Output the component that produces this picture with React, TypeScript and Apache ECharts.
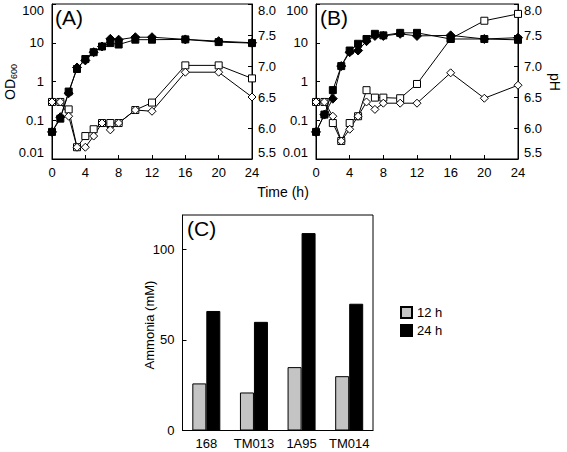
import React, { useEffect, useRef } from "react";
import * as echarts from "echarts";

const hours = [0, 1, 2, 3, 4, 5, 6, 7, 8, 10, 12, 16, 20, 24];

const aOdSquare = [0.05, 0.11, 0.55, 2.1, 3.8, 5.7, 8, 9.8, 9, 12, 12, 12.2, 10.4, 9.8];
const aOdDiamond = [0.05, 0.12, 0.5, 2.3, 3.5, 5.7, 8, 12.6, 12, 13.9, 13.9, 12.2, 11, 10];
const aPhSquare = [6.42, 6.42, 6.3, 5.69, 5.87, 5.98, 6.08, 6.08, 6.08, 6.29, 6.41, 7.01, 7.01, 6.8];
const aPhDiamond = [6.42, 6.42, 6.19, 5.69, 5.69, 5.87, 6.08, 5.97, 6.08, 6.29, 6.27, 6.9, 6.9, 6.5];

const bOdSquare = [0.05, 0.14, 0.6, 2.5, 6.3, 9.4, 12.5, 17, 15.5, 18, 18, 12.5, 12.5, 11.9];
const bOdDiamond = [0.05, 0.14, 0.36, 2.5, 5.7, 6.3, 11, 15, 15, 17, 15, 15.5, 12.5, 13.5];
const bPhSquare = [6.42, 6.42, 6.08, 5.79, 6.08, 6.19, 6.61, 6.49, 6.49, 6.48, 6.71, 7.44, 7.73, 7.84];
const bPhDiamond = [6.42, 6.42, 6.19, 5.79, 5.98, 6.19, 6.42, 6.3, 6.4, 6.4, 6.4, 6.89, 6.48, 6.69];

const strains = ["168", "TM013", "1A95", "TM014"];
const ammonia12h = [26, 21, 35, 30];
const ammonia24h = [66, 60, 109, 70];

const FONT = "'Liberation Sans', Arial, Helvetica, sans-serif";

function pairs(xs: number[], ys: number[]) {
  return xs.map((x, i) => [x, ys[i]]);
}

export default function App() {
  const ref = useRef<HTMLDivElement>(null);
  useEffect(() => {
    if (!ref.current) return;
    const chart = echarts.init(ref.current, undefined, { renderer: "svg" });
    const axisLine = { show: true, lineStyle: { color: "#000", width: 1 } };
    const axisTick = { show: true, inside: true, length: 4, lineStyle: { color: "#000" } };
    const label = { color: "#000", fontSize: 13, fontFamily: FONT };

    const timeAxis = (gi: number) => ({
      type: "value",
      gridIndex: gi,
      min: 0,
      max: 24,
      interval: 4,
      axisLine,
      axisTick,
      splitLine: { show: false },
      axisLabel: { ...label, margin: 7 },
    });
    const odAxis = (gi: number) => ({
      type: "log",
      logBase: 10,
      gridIndex: gi,
      min: 0.01,
      max: 100,
      position: "left",
      axisLine,
      axisTick,
      minorTick: { show: false },
      splitLine: { show: false },
      axisLabel: {
        ...label,
        margin: 8,
        verticalAlignMaxLabel: "top",
        verticalAlignMinLabel: "bottom",
        formatter: (v: number) => (v >= 1 ? v.toFixed(0) : String(Number(v.toPrecision(1)))),
      },
    });
    const phAxis = (gi: number) => ({
      type: "value",
      gridIndex: gi,
      min: 5.5,
      max: 8.0,
      interval: 0.5,
      position: "right",
      axisLine,
      axisTick,
      splitLine: { show: false },
      axisLabel: {
        ...label,
        margin: 6,
        verticalAlignMaxLabel: "top",
        verticalAlignMinLabel: "bottom",
        formatter: (v: number) => v.toFixed(1),
      },
    });

    const line = (
      xi: number,
      yi: number,
      ys: number[],
      symbol: string,
      filled: boolean,
      size: number
    ) => ({
      type: "line",
      xAxisIndex: xi,
      yAxisIndex: yi,
      data: pairs(hours, ys),
      symbol,
      symbolSize: size,
      showAllSymbol: true,
      lineStyle: { color: "#000", width: 1 },
      itemStyle: {
        color: filled ? "#000" : "#fff",
        borderColor: "#000",
        borderWidth: 1,
      },
      z: filled ? 3 : 2,
    });

    const gridBase = { show: true, borderColor: "#000", borderWidth: 1, backgroundColor: "transparent", containLabel: false, outerBoundsMode: "none" };

    chart.setOption({
      animation: false,
      backgroundColor: "#fff",
      textStyle: { fontFamily: FONT },
      grid: [
        { ...gridBase, left: 52, top: 4, width: 200, height: 155 },
        { ...gridBase, left: 316, top: 4, width: 202, height: 155 },
        { ...gridBase, left: 182.5, top: 215, width: 190.5, height: 215.5 },
      ],
      xAxis: [
        timeAxis(0),
        timeAxis(1),
        {
          type: "category",
          gridIndex: 2,
          data: strains,
          axisLine,
          axisTick: { show: false },
          splitLine: { show: false },
          axisLabel: { ...label, margin: 6, interval: 0, hideOverlap: false },
        },
      ],
      yAxis: [
        odAxis(0),
        phAxis(0),
        odAxis(1),
        phAxis(1),
        {
          type: "value",
          gridIndex: 2,
          min: 0,
          max: 119,
          interval: 50,
          axisLine,
          axisTick,
          splitLine: { show: false },
          axisLabel: { ...label, margin: 8, showMaxLabel: false },
        },
      ],
      legend: {
        left: 395,
        top: 301,
        orient: "vertical",
        itemWidth: 11,
        itemHeight: 11,
        itemGap: 5,
        icon: "rect",
        textStyle: { color: "#000", fontSize: 13, fontFamily: FONT },
        data: ["12 h", "24 h"],
      },
      series: [
        line(0, 1, aPhSquare, "rect", false, 7),
        line(0, 1, aPhDiamond, "diamond", false, 8),
        line(0, 0, aOdSquare, "rect", true, 7),
        line(0, 0, aOdDiamond, "diamond", true, 9),
        line(1, 3, bPhSquare, "rect", false, 7),
        line(1, 3, bPhDiamond, "diamond", false, 8),
        line(1, 2, bOdSquare, "rect", true, 7),
        line(1, 2, bOdDiamond, "diamond", true, 9),
        {
          name: "12 h",
          type: "bar",
          xAxisIndex: 2,
          yAxisIndex: 4,
          data: ammonia12h,
          barWidth: 14,
          barGap: "0%",
          itemStyle: { color: "#c4c4c4", borderColor: "#000", borderWidth: 1 },
        },
        {
          name: "24 h",
          type: "bar",
          xAxisIndex: 2,
          yAxisIndex: 4,
          data: ammonia24h,
          barWidth: 14,
          barGap: "0%",
          itemStyle: { color: "#000", borderColor: "#000", borderWidth: 1 },
        },
      ],
      graphic: [
        { type: "text", left: 55, top: 7, style: { text: "(A)", fontSize: 21, fontFamily: FONT, fill: "#000" } },
        { type: "text", left: 320, top: 7, style: { text: "(B)", fontSize: 21, fontFamily: FONT, fill: "#000" } },
        { type: "text", left: 187, top: 218, style: { text: "(C)", fontSize: 21, fontFamily: FONT, fill: "#000" } },
        {
          type: "text",
          x: 283,
          y: 192,
          style: { text: "Time (h)", fontSize: 14, fontFamily: FONT, fill: "#000", align: "center", verticalAlign: "middle" },
        },
        {
          type: "group",
          x: 10,
          y: 82,
          rotation: Math.PI / 2,
          children: [
            { type: "text", x: -18, y: 0, style: { text: "OD", fontSize: 14, fontFamily: FONT, fill: "#000", align: "left", verticalAlign: "middle" } },
            { type: "text", x: 3, y: 4, style: { text: "600", fontSize: 9, fontFamily: FONT, fill: "#000", align: "left", verticalAlign: "middle" } },
          ],
        },
        {
          type: "text",
          x: 555,
          y: 82,
          rotation: -Math.PI / 2,
          style: { text: "pH", fontSize: 14, fontFamily: FONT, fill: "#000", align: "center", verticalAlign: "middle" },
        },
        {
          type: "text",
          x: 149,
          y: 325,
          rotation: Math.PI / 2,
          style: { text: "Ammonia (mM)", fontSize: 13, fontFamily: FONT, fill: "#000", align: "center", verticalAlign: "middle" },
        },
      ],
    });
    return () => chart.dispose();
  }, []);
  return <div ref={ref} style={{ position: "absolute", left: 0, top: 0, width: 567, height: 452 }} />;
}
